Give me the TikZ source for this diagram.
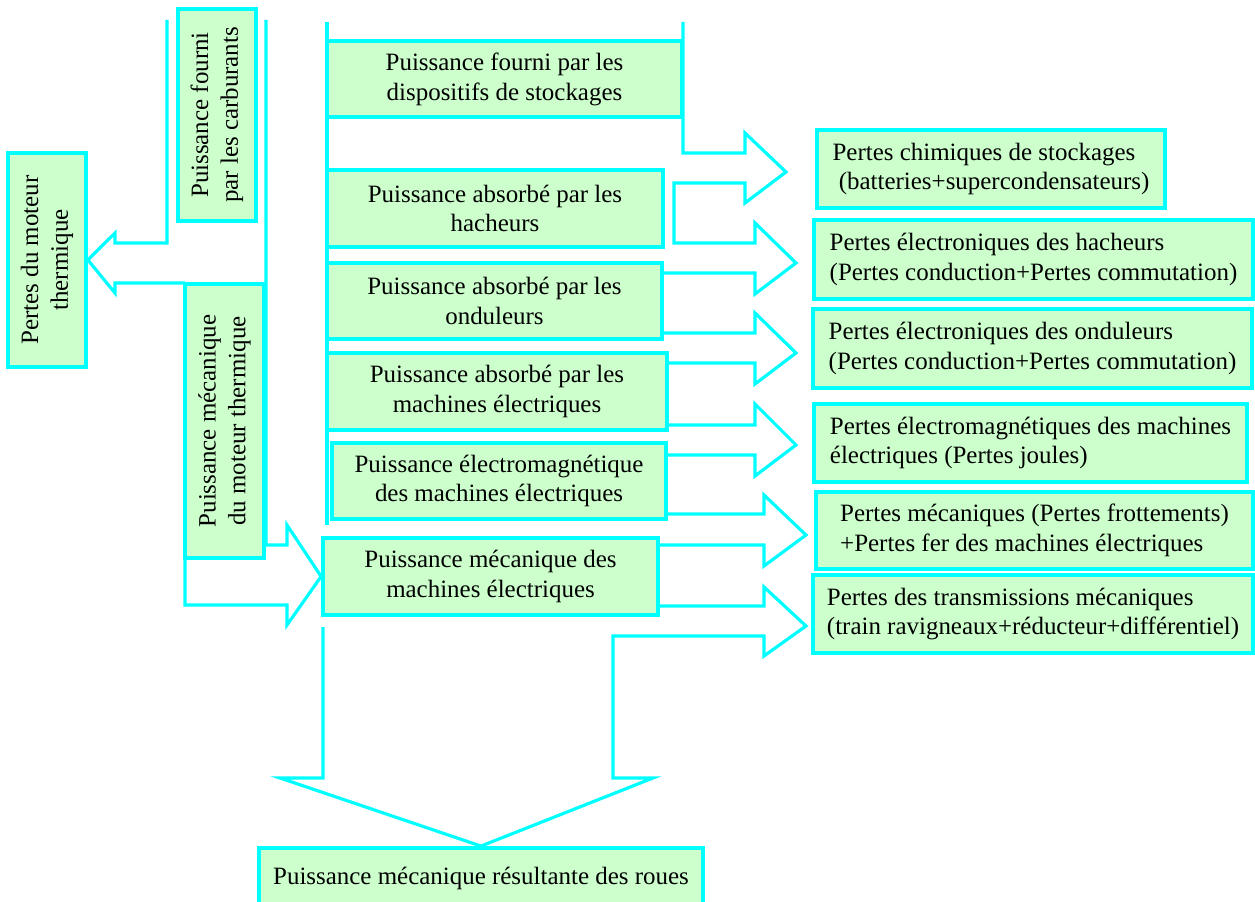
\documentclass[tikz,border=0pt]{standalone}
\usepackage{fontspec}
\setmainfont{Liberation Serif}
\usepackage{graphicx}
\definecolor{flowcyan}{RGB}{0,255,255}
\definecolor{boxgreen}{RGB}{204,255,204}

\begin{document}
\begin{tikzpicture}[x=0.02cm, y=-0.02cm,
  box/.style={draw=flowcyan, fill=boxgreen, line width=2.2pt, inner sep=0pt, align=center},
  rbox/.style={box, align=left},
  flow/.style={draw=flowcyan, line width=1.8pt},
  every node/.style={font=\fontsize{14.2}{17}\selectfont}
]
  \useasboundingbox (0,0) rectangle (1255,902);

  % thermal engine side (vertical boxes)
  \node[box, minimum width=1.56cm, minimum height=4.28cm] (pmt) at (47,260)
    {\rotatebox{90}{\begin{tabular}{@{}c@{}}Pertes du moteur\\thermique\end{tabular}}};
  \node[box, minimum width=1.56cm, minimum height=4.24cm] (carb) at (217,115)
    {\rotatebox{90}{\begin{tabular}{@{}c@{}}Puissance fourni\\par les carburants\end{tabular}}};
  \node[box, minimum width=1.58cm, minimum height=5.48cm] (mmt) at (224.5,421)
    {\rotatebox{90}{\begin{tabular}{@{}c@{}}Puissance mécanique\\du moteur thermique\end{tabular}}};

  % electric chain
  \node[box, minimum width=7.1cm, minimum height=1.52cm] (stock) at (504.5,79)
    {Puissance fourni par les\\dispositifs de stockages};
  \node[box, minimum width=6.72cm, minimum height=1.54cm] (hach) at (495,208.5)
    {Puissance absorbé par les\\hacheurs};
  \node[box, minimum width=6.7cm, minimum height=1.52cm] (ond) at (494.5,301)
    {Puissance absorbé par les\\onduleurs};
  \node[box, minimum width=6.8cm, minimum height=1.54cm] (mach) at (497,391.5)
    {Puissance absorbé par les\\machines électriques};
  \node[box, minimum width=6.68cm, minimum height=1.52cm] (emag) at (499,481)
    {Puissance électromagnétique\\des machines électriques};
  \node[box, minimum width=6.7cm, minimum height=1.54cm] (mmec) at (490.5,576.5)
    {Puissance mécanique des\\machines électriques};
  \node[box, minimum width=8.88cm, minimum height=1.2cm] (roues) at (481,878)
    {Puissance mécanique résultante des roues};

  % losses
  \node[rbox, minimum width=6.96cm, minimum height=1.56cm] (pchim) at (991,169)
    {Pertes chimiques de stockages\\\ (batteries+supercondensateurs)};
  \node[rbox, minimum width=8.78cm, minimum height=1.58cm] (phach) at (1033.5,259.5)
    {Pertes électroniques des hacheurs\\(Pertes conduction+Pertes commutation)};
  \node[rbox, minimum width=8.78cm, minimum height=1.58cm] (pond) at (1032.5,348.5)
    {Pertes électroniques des onduleurs\\(Pertes conduction+Pertes commutation)};
  \node[rbox, minimum width=8.66cm, minimum height=1.56cm] (pjoule) at (1030.5,443)
    {Pertes électromagnétiques des machines\\électriques (Pertes joules)};
  \node[rbox, minimum width=8.74cm, minimum height=1.54cm] (pmeca) at (1034.5,530.5)
    {Pertes mécaniques (Pertes frottements)\\+Pertes fer des machines électriques};
  \node[rbox, minimum width=8.8cm, minimum height=1.56cm] (ptrans) at (1033,614)
    {Pertes des transmissions mécaniques\\(train ravigneaux+réducteur+différentiel)};

  % fuel flow
  \draw[flow] (167,20) -- (167,243) -- (115,243) -- (115,233) -- (pmt.east)
    -- (115,293) -- (115,283) -- (185,283);
  \draw[flow] (266,20) -- (266,545) -- (287,545) -- (287,525) -- (mmec.west)
    -- (287,625) -- (287,605) -- (185,605) -- (185,558);

  % electric flow
  \draw[flow] (327,22) -- (327,525);
  \draw[flow] (683,22) -- (683,153) -- (745,153) -- (745,133) -- (786,172)
    -- (745,203) -- (745,183) -- (674,183) -- (674,243) -- (755,243)
    -- (755,223) -- (796,263) -- (755,294) -- (755,273) -- (663,273);
  \draw[flow] (663,333) -- (755,333) -- (755,313) -- (796,353) -- (755,384)
    -- (755,363) -- (667,363);
  \draw[flow] (667,425) -- (755,425) -- (755,404) -- (796,445) -- (755,476)
    -- (755,455) -- (665,455);
  \draw[flow] (666,514) -- (764,514) -- (764,495) -- (806,535) -- (764,566)
    -- (764,545) -- (658,545);
  \draw[flow] (658,606) -- (764,606) -- (764,587) -- (806,626) -- (764,656)
    -- (764,636) -- (613,636) -- (613,778) -- (653,778) -- (roues.north)
    -- (280,778) -- (323,778) -- (323,627);
\end{tikzpicture}
\end{document}
